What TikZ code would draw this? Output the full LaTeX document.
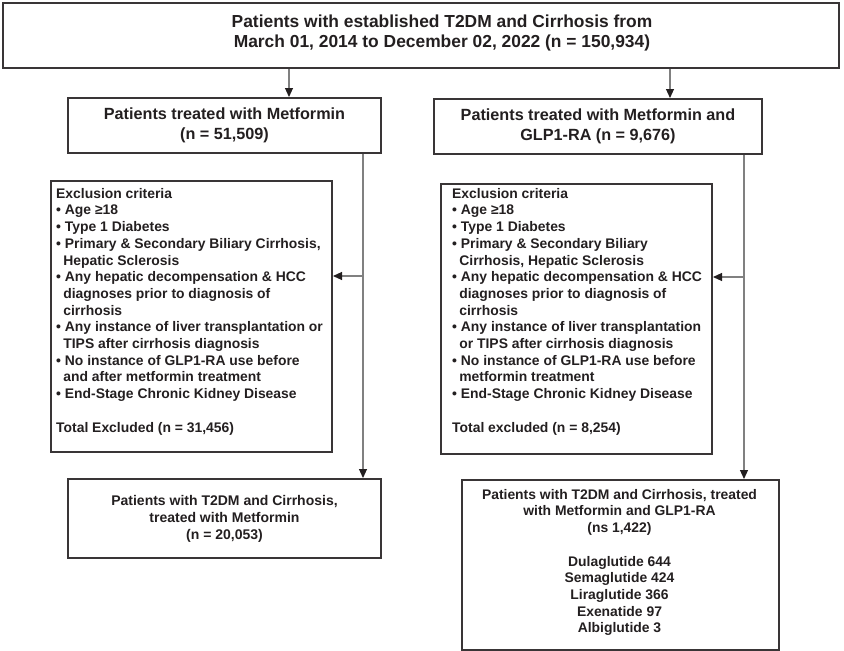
\documentclass[tikz,border=0pt]{standalone}
\usepackage{fontspec}
\setmainfont{Liberation Sans}
\usetikzlibrary{arrows.meta}
\definecolor{ink}{HTML}{231F20}
\definecolor{linec}{HTML}{808080}
\tikzset{
  box/.style={draw=ink!90, line width=2pt, inner sep=0pt, anchor=north west},
  txt/.style={text=ink, font=\bfseries, inner sep=0pt},
  arr/.style={draw=linec, line width=1.1pt, -{Triangle[length=9pt,width=8pt,color=ink]}},
}
\newcommand{\cont}{\phantom{•\,}}
\begin{document}
\begin{tikzpicture}[x=1pt,y=-1pt]
\useasboundingbox (0,0) rectangle (844,651);
% boxes
\node[box, minimum width=836, minimum height=65] (top) at (2,2) {};
\node[box, minimum width=313, minimum height=55] (L1) at (67,97) {};
\node[box, minimum width=328, minimum height=55] (R1) at (433,98) {};
\node[box, minimum width=281, minimum height=271] (exL) at (50,180) {};
\node[box, minimum width=271, minimum height=270] (exR) at (440,183) {};
\node[box, minimum width=313, minimum height=79] (L3) at (67,478) {};
\node[box, minimum width=317, minimum height=170] (R3) at (461,479) {};
% texts
\node[txt, font=\bfseries\fontsize{17.4}{20.5}\selectfont, align=center] (topt) at (442,33) {Patients with established T2DM and Cirrhosis from\\March 01, 2014 to December 02, 2022 (n = 150,934)};
\node[txt, font=\bfseries\fontsize{16.2}{19.5}\selectfont, align=center] (L1t) at (L1.center) {Patients treated with Metformin\\(n = 51,509)};
\node[txt, font=\bfseries\fontsize{16.2}{19.5}\selectfont, align=center] (R1t) at (R1.center) {Patients treated with Metformin and\\GLP1-RA (n = 9,676)};
\node[txt, font=\bfseries\fontsize{13.9}{16.7}\selectfont, align=left, anchor=north west] (exLt) at (56,188) {Exclusion criteria\\
• Age ≥18\\
• Type 1 Diabetes\\
• Primary \& Secondary Biliary Cirrhosis,\\
\cont Hepatic Sclerosis\\
• Any hepatic decompensation \& HCC\\
\cont diagnoses prior to diagnosis of\\
\cont cirrhosis\\
• Any instance of liver transplantation or\\
\cont TIPS after cirrhosis diagnosis\\
• No instance of GLP1-RA use before\\
\cont and after metformin treatment\\
• End-Stage Chronic Kidney Disease\\[16.7pt]
Total Excluded (n = 31,456)};
\node[txt, font=\bfseries\fontsize{13.9}{16.7}\selectfont, align=left, anchor=north west] (exRt) at (452,188) {Exclusion criteria\\
• Age ≥18\\
• Type 1 Diabetes\\
• Primary \& Secondary Biliary\\
\cont Cirrhosis, Hepatic Sclerosis\\
• Any hepatic decompensation \& HCC\\
\cont diagnoses prior to diagnosis of\\
\cont cirrhosis\\
• Any instance of liver transplantation\\
\cont or TIPS after cirrhosis diagnosis\\
• No instance of GLP1-RA use before\\
\cont metformin treatment\\
• End-Stage Chronic Kidney Disease\\[16.7pt]
Total excluded (n = 8,254)};
\node[txt, font=\bfseries\fontsize{14}{17}\selectfont, align=center] (L3t) at (L3.center) {Patients with T2DM and Cirrhosis,\\treated with Metformin\\(n = 20,053)};
\node[txt, font=\bfseries\fontsize{13.9}{16.7}\selectfont, align=center, anchor=north] (R3t) at (619.5,489) {Patients with T2DM and Cirrhosis, treated\\with Metformin and GLP1-RA\\(ns 1,422)\\[16.7pt]
Dulaglutide 644\\Semaglutide 424\\Liraglutide 366\\Exenatide 97\\Albiglutide 3};
% connectors
\coordinate (a1) at (289,0);
\coordinate (a2) at (670,0);
\coordinate (cL) at (363,276);
\coordinate (cR) at (744,277);
\draw[arr] (top.south -| a1) -- (L1.north -| a1);
\draw[arr] (top.south -| a2) -- (R1.north -| a2);
\draw[arr] (L1.south -| cL) -- (L3.north -| cL);
\draw[arr] (cL) -- (exL.east |- cL);
\draw[arr] (R1.south -| cR) -- (R3.north -| cR);
\draw[arr] (cR) -- (exR.east |- cR);
\end{tikzpicture}
\end{document}
